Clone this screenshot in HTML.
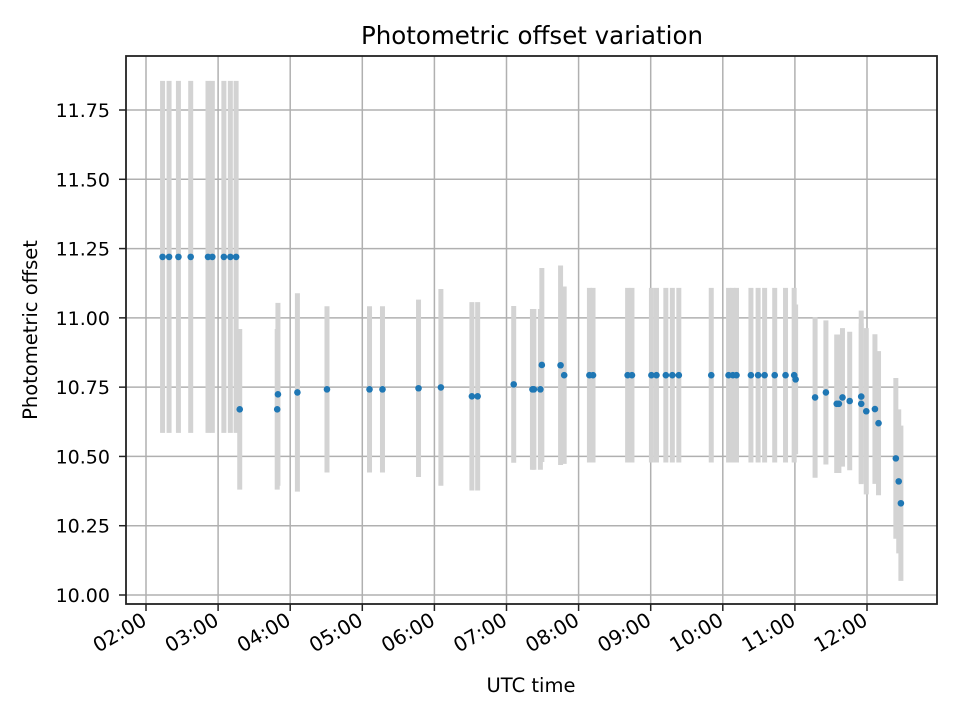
<!DOCTYPE html>
<html><head><meta charset="utf-8"><style>
body{margin:0;background:#fff;}
svg{display:block;font-family:"DejaVu Sans","Liberation Sans",sans-serif;}
</style></head><body>
<svg id="chart" width="960" height="720">
<rect width="960" height="720" fill="#fff"/>
<g id="grid"></g>
<g id="bars"></g>
<g id="pts"></g>
<g id="axes"></g>
<text x="532" y="44" text-anchor="middle" font-size="24.5">Photometric offset variation</text>
<text x="531" y="692" text-anchor="middle" font-size="19.5">UTC time</text>
<text transform="translate(37,330) rotate(-90)" text-anchor="middle" font-size="19.5">Photometric offset</text>
</svg>
<script>
const times=[2.23,2.32,2.45,2.62,2.86,2.92,3.08,3.17,3.25,3.30,3.82,3.83,4.10,4.51,5.10,5.28,5.78,6.09,6.52,6.60,7.10,7.36,7.38,7.47,7.49,7.75,7.80,8.15,8.20,8.68,8.74,9.01,9.08,9.21,9.30,9.39,9.84,10.08,10.14,10.19,10.39,10.49,10.58,10.72,10.87,10.99,11.01,11.28,11.43,11.58,11.61,11.66,11.76,11.92,11.92,11.99,12.11,12.16,12.40,12.44,12.47];
const values=[11.22,11.22,11.22,11.22,11.22,11.22,11.22,11.22,11.22,10.67,10.67,10.724,10.731,10.742,10.742,10.742,10.746,10.749,10.717,10.717,10.76,10.742,10.742,10.742,10.83,10.829,10.793,10.793,10.793,10.793,10.793,10.793,10.793,10.793,10.793,10.793,10.793,10.793,10.793,10.793,10.793,10.793,10.793,10.793,10.793,10.793,10.778,10.713,10.731,10.69,10.69,10.713,10.70,10.716,10.69,10.663,10.671,10.62,10.493,10.41,10.331];
const errors=[0.635,0.635,0.635,0.635,0.635,0.635,0.635,0.635,0.635,0.29,0.29,0.33,0.358,0.30,0.30,0.30,0.32,0.355,0.34,0.34,0.283,0.29,0.29,0.29,0.35,0.36,0.32,0.315,0.315,0.315,0.315,0.315,0.315,0.315,0.315,0.315,0.315,0.315,0.315,0.315,0.315,0.315,0.315,0.315,0.315,0.315,0.27,0.29,0.26,0.25,0.25,0.25,0.25,0.31,0.29,0.30,0.27,0.26,0.29,0.26,0.28];
const yTicks=[10.00,10.25,10.50,10.75,11.00,11.25,11.50,11.75];
const xTicks=[2,3,4,5,6,7,8,9,10,11,12];
const xLabels=["02:00","03:00","04:00","05:00","06:00","07:00","08:00","09:00","10:00","11:00","12:00"];
const L=126,R=937,T=56,B=604;
const X=t=>146+(t-2)*72.1;
const Y=v=>595-(v-10)*277.14;
const NS="http://www.w3.org/2000/svg";
function mk(tag,attrs,parent){const e=document.createElementNS(NS,tag);for(const k in attrs)e.setAttribute(k,attrs[k]);parent.appendChild(e);return e;}
const grid=document.getElementById('grid'),bars=document.getElementById('bars'),pts=document.getElementById('pts'),axes=document.getElementById('axes');
xTicks.forEach((t,i)=>{
 const g=mk('line',{x1:X(t),x2:X(t),y1:T,y2:B,stroke:'#b0b0b0','stroke-width':1.5},grid);
 
 
 mk('line',{x1:X(t),x2:X(t),y1:B,y2:B+7,stroke:'#222','stroke-width':1.5},axes);
 const tx=mk('text',{transform:`translate(${X(t)+2},${B+20}) rotate(-30)`,'text-anchor':'end','font-size':20},axes);
 tx.textContent=xLabels[i];
 
 
});
yTicks.forEach(v=>{
 const g=mk('line',{x1:L,x2:R,y1:Y(v),y2:Y(v),stroke:'#b0b0b0','stroke-width':1.5},grid);
 
 
 mk('line',{x1:L-7,x2:L,y1:Y(v),y2:Y(v),stroke:'#222','stroke-width':1.5},axes);
 const tx=mk('text',{x:L-16,y:Y(v)+7,'text-anchor':'end','font-size':19},axes);
 tx.textContent=v.toFixed(2);
 
 
});
const frame=mk('rect',{x:L,y:T,width:R-L,height:B-T,fill:'none',stroke:'#222','stroke-width':1.8},axes);


times.forEach((t,i)=>{
 const b=mk('line',{x1:X(t),x2:X(t),y1:Y(values[i]+errors[i]),y2:Y(values[i]-errors[i]),stroke:'#d3d3d3','stroke-width':5},bars);
 
 
});
times.forEach((t,i)=>{
 const p=mk('circle',{cx:X(t),cy:Y(values[i]),r:3.3,fill:'#1f77b4'},pts);
 
 
});
</script>
</body></html>
